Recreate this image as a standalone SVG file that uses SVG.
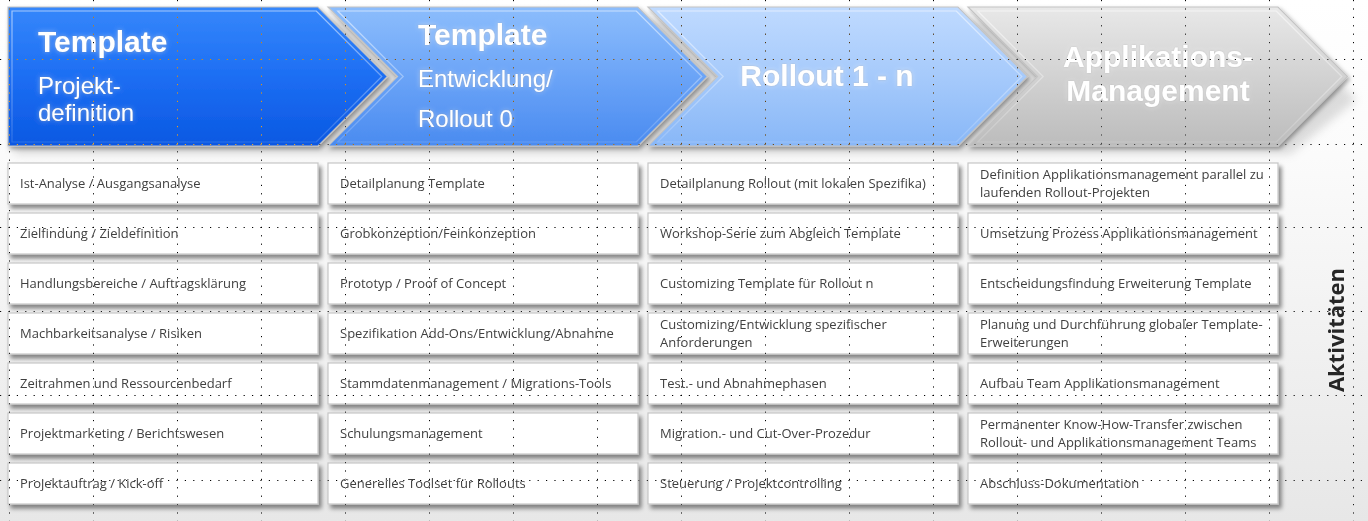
<svg xmlns="http://www.w3.org/2000/svg" width="1368" height="521" viewBox="0 0 1368 521">
  <defs>
    <style>
      .hdr { font-family: "Liberation Sans", Arial, sans-serif; fill: #ffffff; }
      .h-big { font-size: 30px; font-weight: 700; }
      .h-sub { font-size: 24px; font-weight: 400; }
      .box { fill: #ffffff; stroke: #c6c6c6; stroke-width: 1.2; }
      .lbl { font-family: "Open Sans", "Liberation Sans", sans-serif; font-size: 13px; fill: #404040; }
      .side { font-family: "Open Sans", "Liberation Sans", sans-serif; font-size: 22px; font-weight: 700; fill: #262626; }
      .rim { fill: none; stroke: #c4c4c4; stroke-width: 1.2; }
      .inset { fill: none; stroke-width: 1.2; }
      .grid line { stroke: #ffffff; stroke-width: 1; stroke-dasharray: 1.2 7.2; }
      .grid { mix-blend-mode: difference; }
    </style>

    <!-- page background -->
    <linearGradient id="bg" x1="0" y1="0" x2="0" y2="1">
      <stop offset="0" stop-color="#ffffff"/>
      <stop offset="0.3" stop-color="#fbfbfb"/>
      <stop offset="1" stop-color="#e7e7e7"/>
    </linearGradient>

    <!-- chevron fills -->
    <linearGradient id="g1" x1="0" y1="0" x2="0" y2="1">
      <stop offset="0" stop-color="#3587fb"/>
      <stop offset="0.5" stop-color="#1d6ef3"/>
      <stop offset="1" stop-color="#0a58e2"/>
    </linearGradient>
    <linearGradient id="g2" x1="0" y1="0" x2="0" y2="1">
      <stop offset="0" stop-color="#8cbdfc"/>
      <stop offset="0.5" stop-color="#6ba4f7"/>
      <stop offset="1" stop-color="#4a8bf0"/>
    </linearGradient>
    <linearGradient id="g3" x1="0" y1="0" x2="0" y2="1">
      <stop offset="0" stop-color="#bfdaff"/>
      <stop offset="0.5" stop-color="#a6cafb"/>
      <stop offset="1" stop-color="#88b7f7"/>
    </linearGradient>
    <linearGradient id="g4" x1="0" y1="0" x2="0" y2="1">
      <stop offset="0" stop-color="#e8e8e8"/>
      <stop offset="0.5" stop-color="#d2d2d2"/>
      <stop offset="1" stop-color="#bcbcbc"/>
    </linearGradient>
    <linearGradient id="hl" x1="0" y1="0" x2="0" y2="1">
      <stop offset="0" stop-color="#ffffff" stop-opacity="0.55"/>
      <stop offset="1" stop-color="#ffffff" stop-opacity="0.15"/>
    </linearGradient>

    <!-- chevron outlines, 310 wide, 139 high, 69.5 deep -->
    <path id="chevFlat" d="M0,0 H310 L379.5,69.5 L310,139 H0 Z"/>
    <path id="chevNotch" d="M0,0 H310 L379.5,69.5 L310,139 H0 L69.5,69.5 Z"/>
    <path id="insetFlat" d="M4,4 H308.3 L373.8,69.5 L308.3,135 H4 Z"/>
    <path id="insetNotch" d="M9.7,4 H308.3 L373.8,69.5 L308.3,135 H9.7 L75.2,69.5 Z"/>

    <filter id="chevShadow" x="-5%" y="-10%" width="112%" height="130%">
      <feDropShadow dx="2" dy="2.5" stdDeviation="2" flood-color="#000000" flood-opacity="0.35"/>
    </filter>
    <filter id="rowShadow" x="-5%" y="-20%" width="115%" height="160%">
      <feGaussianBlur stdDeviation="5"/>
    </filter>
    <filter id="boxShadow" x="-5%" y="-20%" width="112%" height="160%">
      <feDropShadow dx="3" dy="4" stdDeviation="2.2" flood-color="#000000" flood-opacity="0.45"/>
    </filter>
    <filter id="glow" x="-10%" y="-30%" width="120%" height="160%">
      <feGaussianBlur in="SourceAlpha" stdDeviation="2.5" result="soft"/>
      <feFlood flood-color="#ffffff" flood-opacity="0.45"/>
      <feComposite in2="soft" operator="in" result="halo"/>
      <feGaussianBlur in="SourceAlpha" stdDeviation="0.8" result="edge"/>
      <feFlood flood-color="#303030" flood-opacity="0.35"/>
      <feComposite in2="edge" operator="in" result="dark"/>
      <feMerge>
        <feMergeNode in="halo"/>
        <feMergeNode in="dark"/>
        <feMergeNode in="SourceGraphic"/>
      </feMerge>
    </filter>
  </defs>

  <rect width="1368" height="521" fill="url(#bg)"/>

  <!-- soft cast shadow under the phase row -->
  <path d="M14,20 H1284 L1356,100 L1290,154 H14 Z" fill="#7a7a7a" opacity="0.25" filter="url(#rowShadow)"/>

  <!-- phase chevrons -->
  <g id="phase-1" filter="url(#chevShadow)">
    <use href="#chevFlat" x="8" y="7" fill="url(#g1)"/>
    <use href="#chevFlat" x="8" y="7" class="rim"/>
    <use href="#insetFlat" x="8" y="7" class="inset" stroke="url(#hl)"/>
    <g class="hdr" filter="url(#glow)">
      <text x="38" y="52" class="h-big">Template</text>
      <text x="38" y="94" class="h-sub">Projekt-</text>
      <text x="38" y="121" class="h-sub">definition</text>
    </g>
  </g>

  <g id="phase-2" filter="url(#chevShadow)">
    <use href="#chevNotch" x="328" y="7" fill="url(#g2)"/>
    <use href="#chevNotch" x="328" y="7" class="rim"/>
    <use href="#insetNotch" x="328" y="7" class="inset" stroke="url(#hl)"/>
    <g class="hdr" filter="url(#glow)">
      <text x="418" y="45" class="h-big">Template</text>
      <text x="418" y="87" class="h-sub">Entwicklung/</text>
      <text x="418" y="127" class="h-sub">Rollout 0</text>
    </g>
  </g>

  <g id="phase-3" filter="url(#chevShadow)">
    <use href="#chevNotch" x="648" y="7" fill="url(#g3)"/>
    <use href="#chevNotch" x="648" y="7" class="rim"/>
    <use href="#insetNotch" x="648" y="7" class="inset" stroke="url(#hl)"/>
    <g class="hdr" filter="url(#glow)">
      <text x="827" y="86" class="h-big" text-anchor="middle">Rollout 1 - n</text>
    </g>
  </g>

  <g id="phase-4" filter="url(#chevShadow)">
    <use href="#chevNotch" x="968" y="7" fill="url(#g4)"/>
    <use href="#chevNotch" x="968" y="7" class="rim"/>
    <use href="#insetNotch" x="968" y="7" class="inset" stroke="url(#hl)"/>
    <g class="hdr" filter="url(#glow)">
      <text x="1158" y="66.5" class="h-big" text-anchor="middle">Applikations-</text>
      <text x="1158" y="100.5" class="h-big" text-anchor="middle">Management</text>
    </g>
  </g>

  <!-- activity boxes: columns at x = 8 / 328 / 648 / 968, rows every 50px from y = 163 -->
  <g id="col-1">
    <g id="a1-1"><rect class="box" filter="url(#boxShadow)" x="8" y="163" width="310" height="41"/><text class="lbl" x="20" y="188">Ist-Analyse / Ausgangsanalyse</text></g>
    <g id="a1-2"><rect class="box" filter="url(#boxShadow)" x="8" y="213" width="310" height="41"/><text class="lbl" x="20" y="238">Zielfindung / Zieldefinition</text></g>
    <g id="a1-3"><rect class="box" filter="url(#boxShadow)" x="8" y="263" width="310" height="41"/><text class="lbl" x="20" y="288">Handlungsbereiche / Auftragsklärung</text></g>
    <g id="a1-4"><rect class="box" filter="url(#boxShadow)" x="8" y="313" width="310" height="41"/><text class="lbl" x="20" y="338">Machbarkeitsanalyse / Risiken</text></g>
    <g id="a1-5"><rect class="box" filter="url(#boxShadow)" x="8" y="363" width="310" height="41"/><text class="lbl" x="20" y="388">Zeitrahmen und Ressourcenbedarf</text></g>
    <g id="a1-6"><rect class="box" filter="url(#boxShadow)" x="8" y="413" width="310" height="41"/><text class="lbl" x="20" y="438">Projektmarketing / Berichtswesen</text></g>
    <g id="a1-7"><rect class="box" filter="url(#boxShadow)" x="8" y="463" width="310" height="41"/><text class="lbl" x="20" y="488">Projektauftrag / Kick-off</text></g>
  </g>

  <g id="col-2">
    <g id="a2-1"><rect class="box" filter="url(#boxShadow)" x="328" y="163" width="310" height="41"/><text class="lbl" x="340" y="188">Detailplanung Template</text></g>
    <g id="a2-2"><rect class="box" filter="url(#boxShadow)" x="328" y="213" width="310" height="41"/><text class="lbl" x="340" y="238">Grobkonzeption/Feinkonzeption</text></g>
    <g id="a2-3"><rect class="box" filter="url(#boxShadow)" x="328" y="263" width="310" height="41"/><text class="lbl" x="340" y="288">Prototyp / Proof of Concept</text></g>
    <g id="a2-4"><rect class="box" filter="url(#boxShadow)" x="328" y="313" width="310" height="41"/><text class="lbl" x="340" y="338">Spezifikation Add-Ons/Entwicklung/Abnahme</text></g>
    <g id="a2-5"><rect class="box" filter="url(#boxShadow)" x="328" y="363" width="310" height="41"/><text class="lbl" x="340" y="388">Stammdatenmanagement / Migrations-Tools</text></g>
    <g id="a2-6"><rect class="box" filter="url(#boxShadow)" x="328" y="413" width="310" height="41"/><text class="lbl" x="340" y="438">Schulungsmanagement</text></g>
    <g id="a2-7"><rect class="box" filter="url(#boxShadow)" x="328" y="463" width="310" height="41"/><text class="lbl" x="340" y="488">Generelles Toolset für Rollouts</text></g>
  </g>

  <g id="col-3">
    <g id="a3-1"><rect class="box" filter="url(#boxShadow)" x="648" y="163" width="310" height="41"/><text class="lbl" x="660" y="188">Detailplanung Rollout (mit lokalen Spezifika)</text></g>
    <g id="a3-2"><rect class="box" filter="url(#boxShadow)" x="648" y="213" width="310" height="41"/><text class="lbl" x="660" y="238">Workshop-Serie zum Abgleich Template</text></g>
    <g id="a3-3"><rect class="box" filter="url(#boxShadow)" x="648" y="263" width="310" height="41"/><text class="lbl" x="660" y="288">Customizing Template für Rollout n</text></g>
    <g id="a3-4"><rect class="box" filter="url(#boxShadow)" x="648" y="313" width="310" height="41"/><text class="lbl" x="660" y="329">Customizing/Entwicklung spezifischer</text><text class="lbl" x="660" y="347">Anforderungen</text></g>
    <g id="a3-5"><rect class="box" filter="url(#boxShadow)" x="648" y="363" width="310" height="41"/><text class="lbl" x="660" y="388">Test.- und Abnahmephasen</text></g>
    <g id="a3-6"><rect class="box" filter="url(#boxShadow)" x="648" y="413" width="310" height="41"/><text class="lbl" x="660" y="438">Migration.- und Cut-Over-Prozedur</text></g>
    <g id="a3-7"><rect class="box" filter="url(#boxShadow)" x="648" y="463" width="310" height="41"/><text class="lbl" x="660" y="488">Steuerung / Projektcontrolling</text></g>
  </g>

  <g id="col-4">
    <g id="a4-1"><rect class="box" filter="url(#boxShadow)" x="968" y="163" width="310" height="41"/><text class="lbl" x="980" y="179">Definition Applikationsmanagement parallel zu</text><text class="lbl" x="980" y="197">laufenden Rollout-Projekten</text></g>
    <g id="a4-2"><rect class="box" filter="url(#boxShadow)" x="968" y="213" width="310" height="41"/><text class="lbl" x="980" y="238">Umsetzung Prozess Applikationsmanagement</text></g>
    <g id="a4-3"><rect class="box" filter="url(#boxShadow)" x="968" y="263" width="310" height="41"/><text class="lbl" x="980" y="288">Entscheidungsfindung Erweiterung Template</text></g>
    <g id="a4-4"><rect class="box" filter="url(#boxShadow)" x="968" y="313" width="310" height="41"/><text class="lbl" x="980" y="329">Planung und Durchführung globaler Template-</text><text class="lbl" x="980" y="347">Erweiterungen</text></g>
    <g id="a4-5"><rect class="box" filter="url(#boxShadow)" x="968" y="363" width="310" height="41"/><text class="lbl" x="980" y="388">Aufbau Team Applikationsmanagement</text></g>
    <g id="a4-6"><rect class="box" filter="url(#boxShadow)" x="968" y="413" width="310" height="41"/><text class="lbl" x="980" y="429">Permanenter Know-How-Transfer zwischen</text><text class="lbl" x="980" y="447">Rollout- und Applikationsmanagement Teams</text></g>
    <g id="a4-7"><rect class="box" filter="url(#boxShadow)" x="968" y="463" width="310" height="41"/><text class="lbl" x="980" y="488">Abschluss-Dokumentation</text></g>
  </g>

  <!-- row caption -->
  <g id="caption">
    <text class="side" transform="translate(1344,330) rotate(-90)" text-anchor="middle">Aktivitäten</text>
  </g>

  <!-- layout guide grid, 84px pitch, inverted dots -->
  <g class="grid">
    <line x1="9.5" y1="0" x2="9.5" y2="521"/>
    <line x1="93.5" y1="0" x2="93.5" y2="521"/>
    <line x1="177.5" y1="0" x2="177.5" y2="521"/>
    <line x1="261.5" y1="0" x2="261.5" y2="521"/>
    <line x1="345.5" y1="0" x2="345.5" y2="521"/>
    <line x1="429.5" y1="0" x2="429.5" y2="521"/>
    <line x1="513.5" y1="0" x2="513.5" y2="521"/>
    <line x1="597.5" y1="0" x2="597.5" y2="521"/>
    <line x1="681.5" y1="0" x2="681.5" y2="521"/>
    <line x1="765.5" y1="0" x2="765.5" y2="521"/>
    <line x1="849.5" y1="0" x2="849.5" y2="521"/>
    <line x1="933.5" y1="0" x2="933.5" y2="521"/>
    <line x1="1017.5" y1="0" x2="1017.5" y2="521"/>
    <line x1="1101.5" y1="0" x2="1101.5" y2="521"/>
    <line x1="1185.5" y1="0" x2="1185.5" y2="521"/>
    <line x1="1269.5" y1="0" x2="1269.5" y2="521"/>
    <line x1="1353.5" y1="0" x2="1353.5" y2="521"/>
    <line x1="0" y1="59.5" x2="1368" y2="59.5"/>
    <line x1="0" y1="144.5" x2="1368" y2="144.5"/>
    <line x1="0" y1="227.5" x2="1368" y2="227.5"/>
    <line x1="0" y1="311.5" x2="1368" y2="311.5"/>
    <line x1="0" y1="395.5" x2="1368" y2="395.5"/>
    <line x1="0" y1="480.5" x2="1368" y2="480.5"/>
  </g>
</svg>
